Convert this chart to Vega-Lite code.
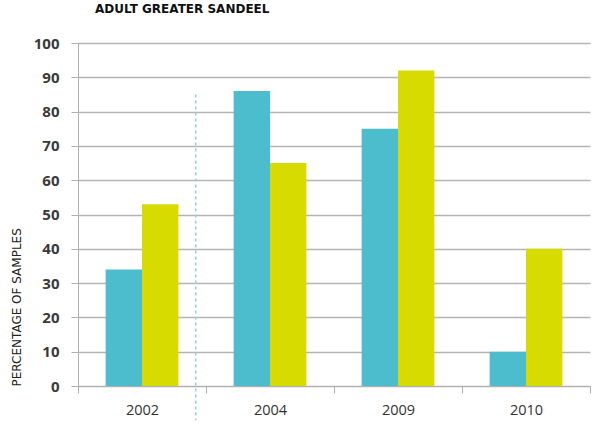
{
  "$schema": "https://vega.github.io/schema/vega-lite/v6.json",
  "width": 512,
  "height": 343,
  "autosize": {"type": "none"},
  "padding": {"left": 78, "top": 43, "right": 5, "bottom": 39},
  "background": "white",
  "title": {
    "text": "ADULT GREATER SANDEEL",
    "anchor": "start",
    "frame": "group",
    "dx": 17,
    "offset": 20,
    "font": "DejaVu Sans",
    "fontSize": 12,
    "fontWeight": 900,
    "color": "#111111"
  },
  "config": {
    "view": {"stroke": null},
    "axis": {"domainColor": "#b0b0b0", "tickColor": "#b0b0b0", "gridColor": "#b5b5b5"}
  },
  "datasets": {
    "bars": [
      {"year": "2002", "series": "Group 1", "value": 34},
      {"year": "2002", "series": "Group 2", "value": 53},
      {"year": "2004", "series": "Group 1", "value": 86},
      {"year": "2004", "series": "Group 2", "value": 65},
      {"year": "2009", "series": "Group 1", "value": 75},
      {"year": "2009", "series": "Group 2", "value": 92},
      {"year": "2010", "series": "Group 1", "value": 10},
      {"year": "2010", "series": "Group 2", "value": 40}
    ],
    "divider": [{"year": "2002", "value": 85, "value2": -10}]
  },
  "encoding": {
    "y": {
      "field": "value",
      "type": "quantitative",
      "scale": {"domain": [0, 100]},
      "axis": {
        "title": "PERCENTAGE OF SAMPLES",
        "titleFont": "DejaVu Sans",
        "titleFontSize": 12,
        "titleFontWeight": "normal",
        "titleColor": "#222222",
        "titleAnchor": "start",
        "titlePadding": 10,
        "values": [0, 10, 20, 30, 40, 50, 60, 70, 80, 90, 100],
        "labelOverlap": false,
        "labelFont": "Open Sans",
        "labelFontSize": 15,
        "labelFontWeight": "bold",
        "labelColor": "#3a3a3a",
        "tickSize": 7,
        "labelPadding": 12,
        "grid": true,
        "gridWidth": 1.5
      }
    }
  },
  "layer": [
    {
      "data": {"name": "bars"},
      "mark": {"type": "bar"},
      "encoding": {
        "x": {
          "field": "year",
          "type": "nominal",
          "scale": {"paddingInner": 0, "paddingOuter": 0},
          "axis": {
            "title": null,
            "labelAngle": 0,
            "labelFont": "Open Sans",
            "labelFontSize": 14.5,
            "labelColor": "#333333",
            "tickBand": "extent",
            "tickSize": 7,
            "labelPadding": 10,
            "domainColor": "#b0b0b0"
          }
        },
        "xOffset": {
          "field": "series",
          "type": "nominal",
          "scale": {"paddingInner": 0, "paddingOuter": 0.76}
        },
        "color": {
          "field": "series",
          "type": "nominal",
          "scale": {"range": ["#4bbdcd", "#d7db00"]},
          "legend": null
        }
      }
    },
    {
      "data": {"name": "divider"},
      "mark": {"type": "rule", "color": "#8fd3dc", "strokeDash": [3, 3], "strokeWidth": 1.5},
      "encoding": {
        "x": {"field": "year", "type": "nominal", "bandPosition": 0.92},
        "y2": {"field": "value2"}
      }
    }
  ]
}
